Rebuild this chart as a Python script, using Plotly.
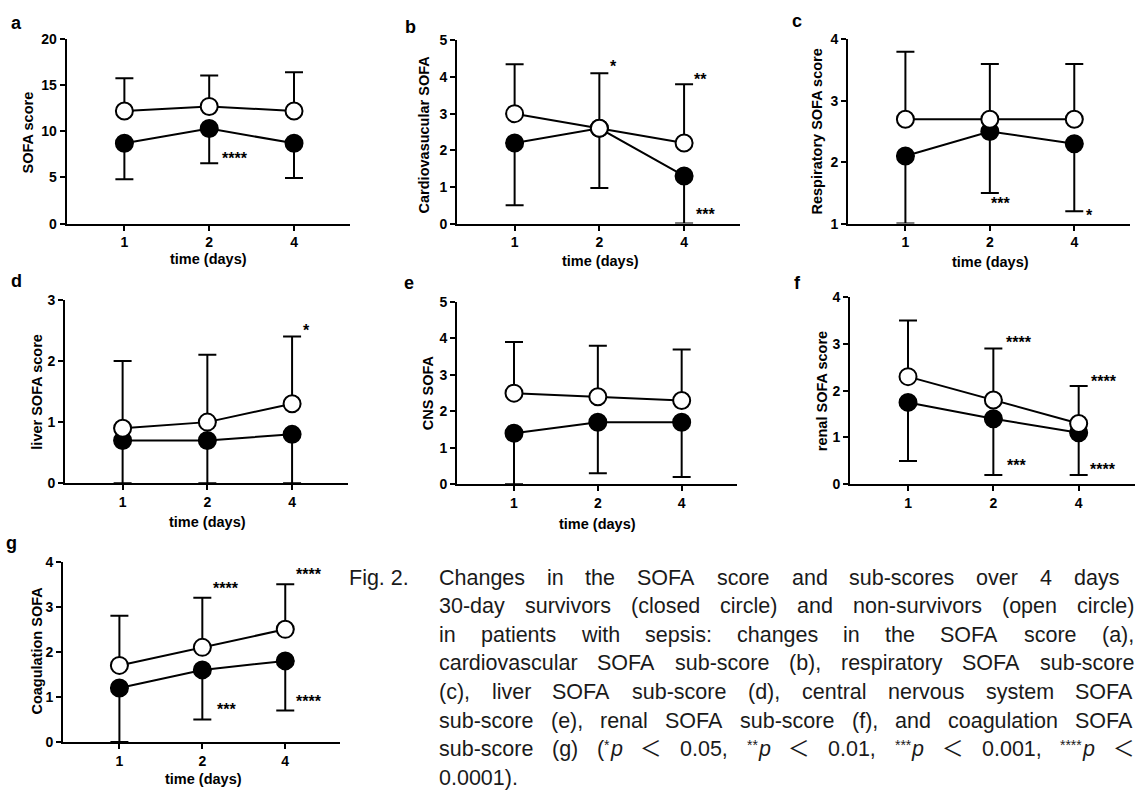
import re
import plotly.graph_objects as go

# ---------------- data ----------------
days = ["1", "2", "4"]

# a: total SOFA score
a_closed = [8.7, 10.3, 8.7]
a_closed_low = [4.8, 6.55, 4.95]
a_open = [12.2, 12.7, 12.2]
a_open_high = [15.75, 16.05, 16.4]
a_sig = ["****"]
a_sig_x = [1.30]
a_sig_y = [7.4]

# b: cardiovascular
b_closed = [2.2, 2.6, 1.3]
b_closed_low = [0.5, 0.97, 0.0]
b_open = [3.0, 2.6, 2.2]
b_open_high = [4.35, 4.1, 3.8]
b_sig = ["*", "**", "***"]
b_sig_x = [1.17, 2.19, 2.25]
b_sig_y = [4.37, 4.01, 0.34]

# c: respiratory
c_closed = [2.1, 2.5, 2.3]
c_closed_low = [1.0, 1.5, 1.2]
c_open = [2.7, 2.7, 2.7]
c_open_high = [3.8, 3.6, 3.6]
c_sig = ["***", "*"]
c_sig_x = [1.13, 2.18]
c_sig_y = [1.37, 1.18]

# d: liver
d_closed = [0.7, 0.7, 0.8]
d_closed_low = [0.0, 0.0, 0.0]
d_open = [0.9, 1.0, 1.3]
d_open_high = [2.0, 2.1, 2.4]
d_sig = ["*"]
d_sig_x = [2.17]
d_sig_y = [2.54]

# e: CNS
e_closed = [1.4, 1.7, 1.7]
e_closed_low = [0.0, 0.3, 0.2]
e_open = [2.5, 2.4, 2.3]
e_open_high = [3.9, 3.8, 3.7]
e_sig = []
e_sig_x = []
e_sig_y = []

# f: renal
f_closed = [1.75, 1.4, 1.1]
f_closed_low = [0.5, 0.2, 0.2]
f_open = [2.3, 1.8, 1.3]
f_open_high = [3.5, 2.9, 2.1]
f_sig = ["****", "****", "***", "****"]
f_sig_x = [1.30, 2.30, 1.27, 2.29]
f_sig_y = [3.09, 2.27, 0.46, 0.37]

# g: coagulation
g_closed = [1.2, 1.6, 1.8]
g_closed_low = [0.0, 0.5, 0.7]
g_open = [1.7, 2.1, 2.5]
g_open_high = [2.8, 3.2, 3.5]
g_sig = ["****", "****", "***", "****"]
g_sig_x = [1.28, 2.29, 1.29, 2.29]
g_sig_y = [3.47, 3.78, 0.78, 0.97]

y_titles = ["SOFA score", "Cardiovasucular SOFA", "Respiratory SOFA score",
            "liver SOFA score", "CNS SOFA", "renal SOFA score", "Coagulation SOFA"]
y_ranges = [[0, 20], [0, 5], [1, 4], [0, 3], [0, 5], [0, 4], [0, 4]]
y_dticks = [5, 1, 1, 1, 1, 1, 1]
panel_letters = ["a", "b", "c", "d", "e", "f", "g"]
x_title = "time (days)"

caption_label = "Fig. 2."
caption_lines = [
    "Changes in the SOFA score and sub-scores over 4 days",
    "30-day survivors (closed circle) and non-survivors (open circle)",
    "in patients with sepsis: changes in the SOFA score (a),",
    "cardiovascular SOFA sub-score (b), respiratory SOFA sub-score",
    "(c), liver SOFA sub-score (d), central nervous system SOFA",
    "sub-score (e), renal SOFA sub-score (f), and coagulation SOFA",
    "sub-score (g) (<sup>*</sup><i>p</i> ＜ 0.05, <sup>**</sup><i>p</i> ＜ 0.01, "
    "<sup>***</sup><i>p</i> ＜ 0.001, <sup>****</sup><i>p</i> ＜",
    "0.0001).",
]
caption_right = [1118, 1133, 1133, 1133, 1133, 1133, 1133, None]

# ---------------- layout (pixels) ----------------
W, H = 1135, 801
FONT = "Liberation Sans, Arial, Helvetica, Noto Sans CJK JP, sans-serif"
# plot-area boxes: left, right, top, bottom
boxes = [
    (66.7, 350, 31.7, 220),
    (457, 740, 33, 220),
    (848, 1130, 32, 220),
    (65, 348, 297.7, 485),
    (457, 737, 300, 486),
    (850, 1135, 295, 486),
    (63, 340, 565, 749),
]
ytitle_pos = [(28, 127), (424, 129), (817, 126), (37.5, 392), (428, 393), (822, 391), (36.7, 656)]
xtitle_pos = [(208, 256), (600, 258), (990, 259), (207, 524), (597, 527), None, (203, 787)]
letter_pos = [(16.7, 14.8), (410, 19.3), (797, 13.3), (16, 278.8), (409, 280.5), (797, 280.5), (11.7, 545.8)]
X_RANGE = [-0.68, 2.66]

closed_all = [a_closed, b_closed, c_closed, d_closed, e_closed, f_closed, g_closed]
closed_low_all = [a_closed_low, b_closed_low, c_closed_low, d_closed_low, e_closed_low, f_closed_low, g_closed_low]
open_all = [a_open, b_open, c_open, d_open, e_open, f_open, g_open]
open_high_all = [a_open_high, b_open_high, c_open_high, d_open_high, e_open_high, f_open_high, g_open_high]
sig_all = [(a_sig, a_sig_x, a_sig_y), (b_sig, b_sig_x, b_sig_y), (c_sig, c_sig_x, c_sig_y),
           (d_sig, d_sig_x, d_sig_y), (e_sig, e_sig_x, e_sig_y), (f_sig, f_sig_x, f_sig_y),
           (g_sig, g_sig_x, g_sig_y)]


def px(x):
    return x / W


def py(y):
    return 1 - y / H


fig = go.Figure()
annotations = []
layout_axes = {}

axis_common = dict(
    showline=True, linecolor="black", linewidth=2,
    ticks="outside", ticklen=5, tickwidth=2, tickcolor="black",
    tickfont=dict(family=FONT, size=14, color="black", weight="bold"),
    showgrid=False, zeroline=False, fixedrange=True,
)

for i in range(7):
    n = i + 1
    xs = "x" if n == 1 else f"x{n}"
    ys = "y" if n == 1 else f"y{n}"
    xa = "xaxis" if n == 1 else f"xaxis{n}"
    ya = "yaxis" if n == 1 else f"yaxis{n}"
    l, r, t, b = boxes[i]
    layout_axes[xa] = dict(axis_common, domain=[px(l), min(px(r), 1)], anchor=ys,
                           type="category", range=X_RANGE)
    layout_axes[ya] = dict(axis_common, domain=[py(b), py(t)], anchor=xs,
                           range=y_ranges[i], dtick=y_dticks[i], tick0=0)

    cl = closed_all[i]
    cll = closed_low_all[i]
    op = open_all[i]
    oph = open_high_all[i]
    fig.add_trace(go.Scatter(
        x=days, y=cl, xaxis=xs, yaxis=ys, mode="lines+markers",
        line=dict(color="black", width=2),
        marker=dict(size=17, color="black", line=dict(color="black", width=2)),
        error_y=dict(type="data", symmetric=False, array=[0, 0, 0],
                     arrayminus=[m - lo for m, lo in zip(cl, cll)],
                     thickness=2, width=9, color="black"),
        showlegend=False, hoverinfo="skip"))
    fig.add_trace(go.Scatter(
        x=days, y=op, xaxis=xs, yaxis=ys, mode="lines+markers",
        line=dict(color="black", width=2),
        marker=dict(size=17, color="white", line=dict(color="black", width=2)),
        error_y=dict(type="data", symmetric=False,
                     array=[hi - m for m, hi in zip(op, oph)], arrayminus=[0, 0, 0],
                     thickness=2, width=9, color="black"),
        showlegend=False, hoverinfo="skip"))

    # significance marks
    txts, sx, sy = sig_all[i]
    for tx, xv, yv in zip(txts, sx, sy):
        annotations.append(dict(text=tx, x=xv, y=yv, xref=xs, yref=ys, showarrow=False,
                                xanchor="center", yanchor="middle", yshift=-3,
                                font=dict(family=FONT, size=16, color="black", weight="bold")))
    # y title
    yx, yy = ytitle_pos[i]
    annotations.append(dict(text=y_titles[i], x=px(yx), y=py(yy), xref="paper", yref="paper",
                            showarrow=False, textangle=-90, xanchor="center", yanchor="middle",
                            font=dict(family=FONT, size=14.5, color="black", weight="bold")))
    # x title
    if xtitle_pos[i] is not None:
        tx_, ty_ = xtitle_pos[i]
        annotations.append(dict(text=x_title, x=px(tx_), y=py(ty_), xref="paper", yref="paper",
                                showarrow=False, xanchor="center", yanchor="middle",
                                font=dict(family=FONT, size=14.5, color="black", weight="bold")))
    # panel letter
    lx, ly = letter_pos[i]
    annotations.append(dict(text=panel_letters[i], x=px(lx), y=py(ly), xref="paper", yref="paper",
                            showarrow=False, xanchor="center", yanchor="middle",
                            font=dict(family=FONT, size=18, color="black", weight="bold")))

# ---------------- caption (justified) ----------------
CW = {' ': 278, '(': 333, ')': 333, '*': 389, ',': 278, '-': 333, '.': 278, ':': 278, '<': 584,
      '＜': 1000,
      'A': 667, 'C': 722, 'F': 611, 'O': 778, 'S': 667,
      'a': 556, 'b': 556, 'c': 500, 'd': 556, 'e': 556, 'f': 278, 'g': 556, 'h': 556, 'i': 222,
      'l': 222, 'm': 833, 'n': 556, 'o': 556, 'p': 556, 'r': 333, 's': 500, 't': 278, 'u': 556,
      'v': 500, 'w': 722, 'y': 500}
for dg in "0123456789":
    CW[dg] = 556

CAP_FS = 21.5
SUP_SCALE = 0.65
CAP_X0 = 438
CAP_BASE0 = 589
CAP_STEP = 29.1
CAP_COLOR = "#1a1a1a"


def segments(word):
    out = []
    for part in re.split(r"(<sup>.*?</sup>|<i>.*?</i>)", word):
        if not part:
            continue
        if part.startswith("<sup>"):
            out.append((part[5:-6], "sup"))
        elif part.startswith("<i>"):
            out.append((part[3:-4], "i"))
        else:
            out.append((part, "n"))
    return out


def seg_width(text, style, fs):
    scale = SUP_SCALE if style == "sup" else 1.0
    return scale * sum(CW.get(ch, 556) for ch in text) / 1000.0 * fs


def word_width(word, fs):
    return sum(seg_width(t, s, fs) for t, s in segments(word))


def add_segment(text, style, x, ycen):
    f = dict(family=FONT, size=CAP_FS, color=CAP_COLOR)
    ysh = 0
    if style == "sup":
        f["size"] = CAP_FS * SUP_SCALE
        ysh = 4
    elif style == "i":
        f["style"] = "italic"
    annotations.append(dict(text=text, x=px(x), y=py(ycen), xref="paper", yref="paper",
                            showarrow=False, xanchor="left", yanchor="middle", yshift=ysh,
                            borderpad=0, font=f))


for k, line in enumerate(caption_lines):
    ycen = CAP_BASE0 + CAP_STEP * k - 0.3465 * CAP_FS
    words = line.split(" ")
    widths = [word_width(w_, CAP_FS) for w_ in words]
    right = caption_right[k]
    if right is not None and len(words) > 1:
        gap = (right - CAP_X0 - sum(widths)) / (len(words) - 1)
    else:
        gap = CW[' '] / 1000.0 * CAP_FS
    x = CAP_X0
    for w_, wd in zip(words, widths):
        sx = x
        for t, s in segments(w_):
            add_segment(t, s, sx, ycen)
            sx += seg_width(t, s, CAP_FS)
        x += wd + gap

add_segment(caption_label, "n", 348, CAP_BASE0 - 0.3465 * CAP_FS)

fig.update_layout(
    width=W, height=H, margin=dict(l=0, r=0, t=0, b=0),
    paper_bgcolor="white", plot_bgcolor="white",
    font=dict(family=FONT, color="black"),
    annotations=annotations,
    showlegend=False,
    **layout_axes,
)

fig.write_html("out.html", config={"displayModeBar": False},
               post_script="document.body.style.margin='0';document.body.style.overflow='hidden';")
